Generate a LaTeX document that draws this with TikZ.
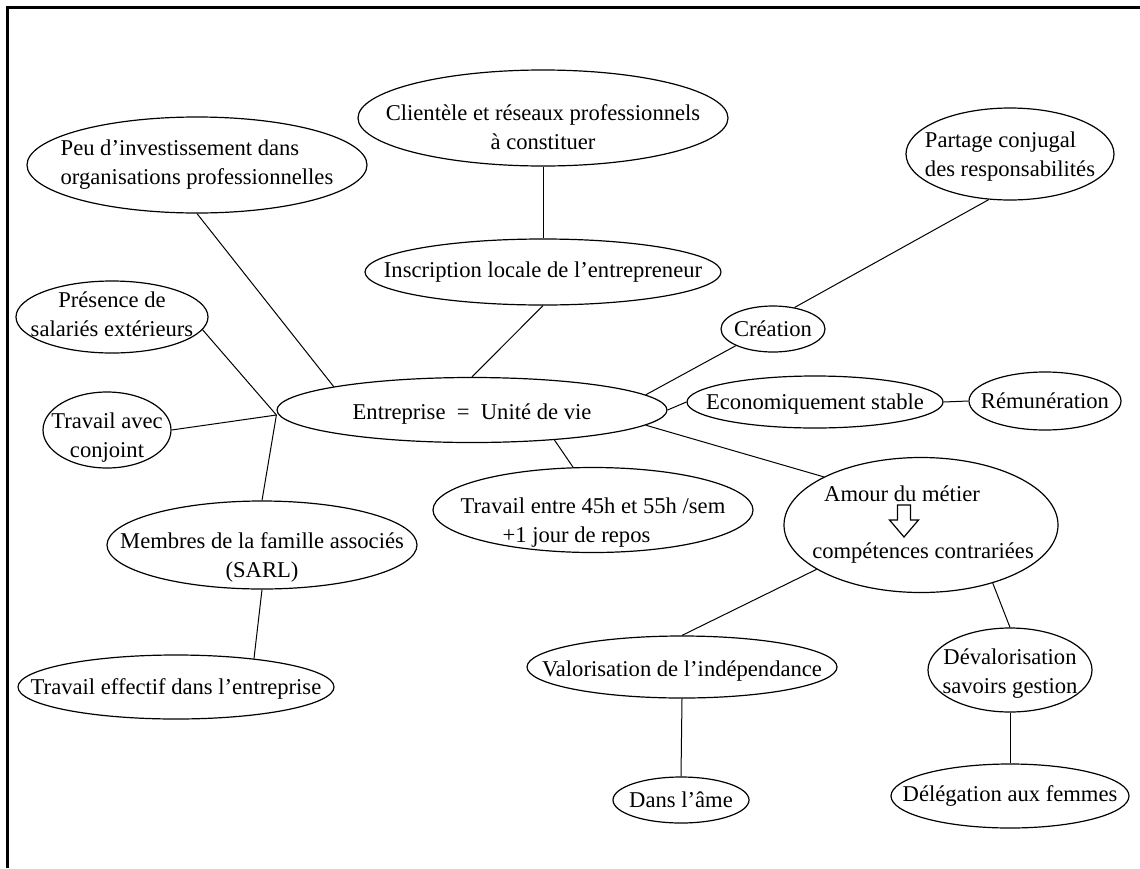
\documentclass[tikz,border=0pt]{standalone}
\usepackage{fontspec}
\setmainfont{Liberation Serif}
\usetikzlibrary{shapes.geometric}

\begin{document}
\begin{tikzpicture}[
		x=0.5pt, y=-0.5pt,
		line width=0.5pt,
		bub/.style 2 args={ellipse, draw, line width=0.6pt, inner sep=0pt,
			minimum width=#1*0.5pt, minimum height=#2*0.5pt},
		txt/.style={align=center, inner sep=0pt, font=\fontsize{11.3}{14.5}\selectfont},
		txtl/.style={txt, align=left}
		]
		\useasboundingbox (0,0) rectangle (1140,868);
		\draw[line width=1.5pt] (7,868) -- (7,7) -- (1140,7);

		% bulles
		\node[bub={390}{65}, label={[txt,yshift=-2pt]center:{Entreprise~~=~~Unité de vie}}] (ent) at (472,410) {};
		\node[bub={340}{96}, label={[txtl]center:{Peu d’investissement dans\\organisations professionnelles}}] (peu) at (197,165) {};
		\node[bub={370}{96}, label={[txt,yshift=-4.5pt]center:{Clientèle et réseaux professionnels\\à constituer}}] (cli) at (543,118) {};
		\node[bub={208}{92}, label={[txtl,yshift=-1.5pt]center:{Partage conjugal\\des responsabilités}}] (par) at (1010,154) {};
		\node[bub={356}{66}, label={[txt]center:{Inscription locale de l’entrepreneur}}] (ins) at (543,272) {};
		\node[bub={192}{72}, label={[txt,yshift=1.5pt]center:{Présence de\\salariés extérieurs}}] (pre) at (112,317) {};
		\node[bub={104}{46}, label={[txt]center:{Création}}] (cre) at (773,329) {};
		\node[bub={256}{52}, label={[txt,yshift=-1pt]center:{Economiquement stable}}] (eco) at (815,402) {};
		\node[bub={152}{58}, label={[txt]center:{Rémunération}}] (rem) at (1045,401) {};
		\node[bub={128}{76}, label={[txt,yshift=-4pt]center:{Travail avec\\conjoint}}] (conj) at (107,430) {};
		\node[bub={320}{85}, label={[txtl,yshift=-6.5pt]center:{Travail entre 45h et 55h /sem\\\hspace*{21pt}+1 jour de repos}}] (trav) at (593,510) {};
		\node[bub={310}{88}, label={[txt,yshift=-6pt]center:{Membres de la famille associés\\(SARL)}}] (mem) at (262,545) {};
		\node[bub={316}{64}, label={[txt,yshift=-1pt]center:{Travail effectif dans l’entreprise}}] (eff) at (176,687) {};
		\node[bub={310}{62}, label={[txt,yshift=-2pt]center:{Valorisation de l’indépendance}}] (val) at (682,667) {};
		\node[bub={136}{46}, label={[txt]center:{Dans l’âme}}] (dans) at (681,800) {};
		\node[bub={164}{84}, label={[txt,yshift=-2pt]center:{Dévalorisation\\savoirs gestion}}] (dev) at (1010,670) {};
		\node[bub={238}{64}, label={[txt]center:{Délégation aux femmes}}] (del) at (1010,796) {};

		% amour du metier
		\node[bub={274}{135}] (amo) at (921,525) {};
		\node[txt] (amotxt) at (902,494) {Amour du métier};
		\node[txt] (comptxt) at (923,553) {compétences contrariées};
		\coordinate (arr) at (904,505);
		\draw[line width=0.6pt] (arr) ++(-6.5,0) -- ++(13,0) -- ++(0,15) -- ++(8,0)
			-- ++(-14.5,17) -- ++(-14.5,-17) -- ++(8,0) -- cycle;

		% liens
		\coordinate (hub) at ([yshift=-2.5pt]ent.west);
		\draw (cli.south) -- (ins.north);
		\draw (ins.south) -- (ent.north);
		\draw (par.245) -- (cre.45);
		\draw (cre.south west) -- (ent.5);
		\draw (ent.east) -- (eco.west);
		\draw (eco.east) -- (rem.west);
		\draw (ent.-5) -- (amo.north west);
		\draw (ent.-20) -- (trav.115);
		\draw (peu.south) -- (ent.north west);
		\draw (pre.-8) -- (hub);
		\draw (conj.east) -- (hub);
		\draw (mem.north) -- (hub);
		\draw (mem.south) -- (eff.20);
		\draw (amo.203) -- (val.north);
		\draw (val.south) -- (dans.north);
		\draw (amo.-39) -- (dev.north);
		\draw (dev.south) -- (del.north);
	\end{tikzpicture}
\end{document}
